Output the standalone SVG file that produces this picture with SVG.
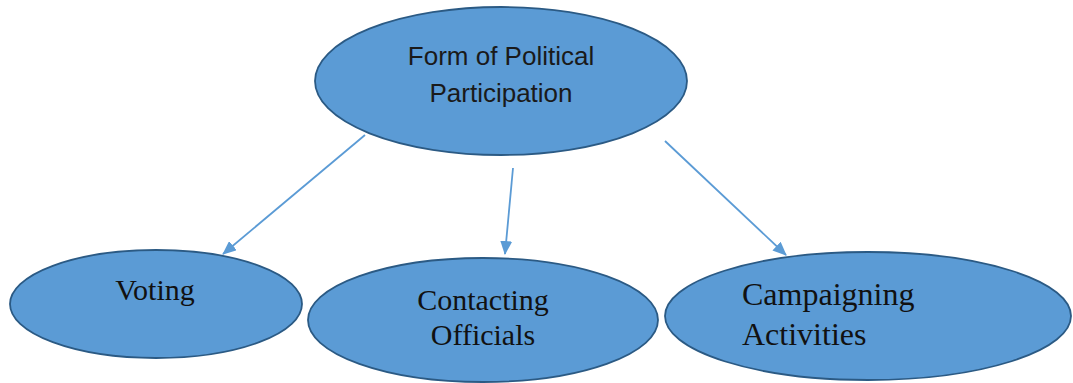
<svg xmlns="http://www.w3.org/2000/svg" width="1073" height="383" viewBox="0 0 1073 383">
  <style>
    .node { fill: #5b9bd5; stroke: #2b5a84; stroke-width: 1.8; }
    .sans { font-family: "Liberation Sans", Arial, sans-serif; font-size: 26px; fill: #1a1a1a; }
    .serif { font-family: "Liberation Serif", "Times New Roman", serif; fill: #111; }
    .conn { stroke: #5b9bd5; stroke-width: 1.8; fill: none; marker-end: url(#arrow); }
  </style>
  <defs>
    <marker id="arrow" markerWidth="14" markerHeight="12" refX="13" refY="6" orient="auto" markerUnits="userSpaceOnUse">
      <path d="M0,0 L14,6 L0,12 Z" fill="#5b9bd5"/>
    </marker>
  </defs>
  <rect width="1073" height="383" fill="#ffffff"/>
  <g id="node-form">
    <ellipse class="node" cx="501" cy="81" rx="186" ry="74"/>
    <text class="sans" x="501" y="65" text-anchor="middle">Form of Political</text>
    <text class="sans" x="501" y="102" text-anchor="middle">Participation</text>
  </g>
  <g id="node-voting">
    <ellipse class="node" cx="156" cy="304" rx="146" ry="54"/>
    <text class="serif" x="155" y="300" text-anchor="middle" font-size="30">Voting</text>
  </g>
  <g id="node-contacting">
    <ellipse class="node" cx="483" cy="320" rx="175" ry="62"/>
    <text class="serif" x="483" y="310" text-anchor="middle" font-size="30">Contacting</text>
    <text class="serif" x="483" y="345" text-anchor="middle" font-size="30">Officials</text>
  </g>
  <g id="node-campaigning">
    <ellipse class="node" cx="868" cy="316" rx="203" ry="64"/>
    <text class="serif" x="742" y="305" font-size="32">Campaigning</text>
    <text class="serif" x="742" y="345" font-size="32">Activities</text>
  </g>
  <g id="connectors">
    <line class="conn" x1="365" y1="135" x2="223" y2="254"/>
    <line class="conn" x1="513" y1="168" x2="505" y2="254"/>
    <line class="conn" x1="665" y1="141" x2="786" y2="255"/>
  </g>
</svg>
